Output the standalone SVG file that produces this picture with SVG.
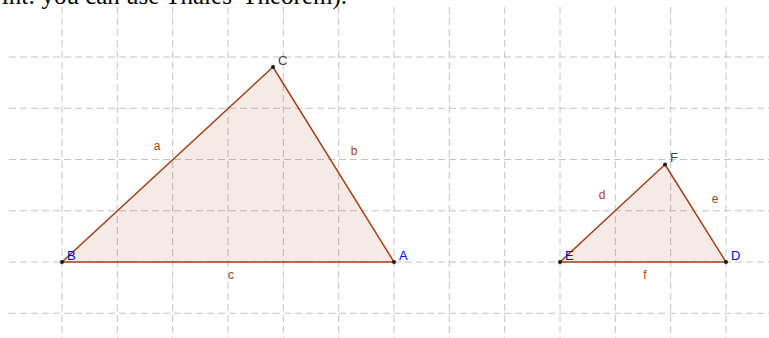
<svg xmlns="http://www.w3.org/2000/svg" width="769" height="338" viewBox="0 0 769 338">
<style>
.grid line{stroke:#c4c4c4;stroke-width:1;stroke-dasharray:7 4;fill:none}
.tri{fill:#993300;fill-opacity:0.1;stroke:#a0451c;stroke-width:1.5;stroke-linejoin:round}
.pt{fill:#1a1a1a}
.lbl{font-family:"Liberation Sans",Arial,sans-serif;font-size:12px;fill:#a0451c}
.pl{font-family:"Liberation Sans",Arial,sans-serif;font-size:13px}
.blue{fill:#0000ff}
.dark{fill:#444444}
.hdr{font-family:"Liberation Serif","Times New Roman",serif;font-size:25px;fill:#000}
</style>
<rect width="769" height="338" fill="#ffffff"/>
<text class="hdr" x="347" y="4" text-anchor="end">int: you can use Thales' Theorem).</text>
<g class="grid">
<line x1="62" y1="7" x2="62" y2="338"/>
<line x1="117.3" y1="7" x2="117.3" y2="338"/>
<line x1="172.7" y1="7" x2="172.7" y2="338"/>
<line x1="228" y1="7" x2="228" y2="338"/>
<line x1="283.3" y1="7" x2="283.3" y2="338"/>
<line x1="338.7" y1="7" x2="338.7" y2="338"/>
<line x1="394" y1="7" x2="394" y2="338"/>
<line x1="449.3" y1="7" x2="449.3" y2="338"/>
<line x1="504.7" y1="7" x2="504.7" y2="338"/>
<line x1="560" y1="7" x2="560" y2="338"/>
<line x1="615.3" y1="7" x2="615.3" y2="338"/>
<line x1="670.7" y1="7" x2="670.7" y2="338"/>
<line x1="726" y1="7" x2="726" y2="338"/>
<line x1="9" y1="57" x2="769" y2="57"/>
<line x1="9" y1="108.25" x2="769" y2="108.25"/>
<line x1="9" y1="159.5" x2="769" y2="159.5"/>
<line x1="9" y1="210.75" x2="769" y2="210.75"/>
<line x1="9" y1="262" x2="769" y2="262"/>
<line x1="9" y1="313.25" x2="769" y2="313.25"/>
</g>
<g id="triangle-ABC">
<polygon class="tri" points="62,262 394,262 273,67"/>
<text class="lbl" x="157" y="150" text-anchor="middle">a</text>
<text class="lbl" x="354" y="155" text-anchor="middle">b</text>
<text class="lbl" x="231" y="279" text-anchor="middle">c</text>
</g>
<g id="triangle-DEF">
<polygon class="tri" points="560,262 726,262 665,164.5"/>
<text class="lbl" x="602" y="199" text-anchor="middle">d</text>
<text class="lbl" x="715" y="203" text-anchor="middle">e</text>
<text class="lbl" x="645" y="279" text-anchor="middle">f</text>
</g>
<g id="point-A"><circle class="pt" cx="394" cy="262" r="2"/><text class="pl blue" x="399" y="260">A</text></g>
<g id="point-B"><circle class="pt" cx="62" cy="262" r="2"/><text class="pl blue" x="67" y="260">B</text></g>
<g id="point-C"><circle class="pt" cx="273" cy="67" r="2"/><text class="pl dark" x="278" y="65">C</text></g>
<g id="point-D"><circle class="pt" cx="726" cy="262" r="2"/><text class="pl blue" x="731" y="260">D</text></g>
<g id="point-E"><circle class="pt" cx="560" cy="262" r="2"/><text class="pl blue" x="565" y="260">E</text></g>
<g id="point-F"><circle class="pt" cx="665" cy="164.5" r="2"/><text class="pl dark" x="670" y="162">F</text></g>
</svg>
